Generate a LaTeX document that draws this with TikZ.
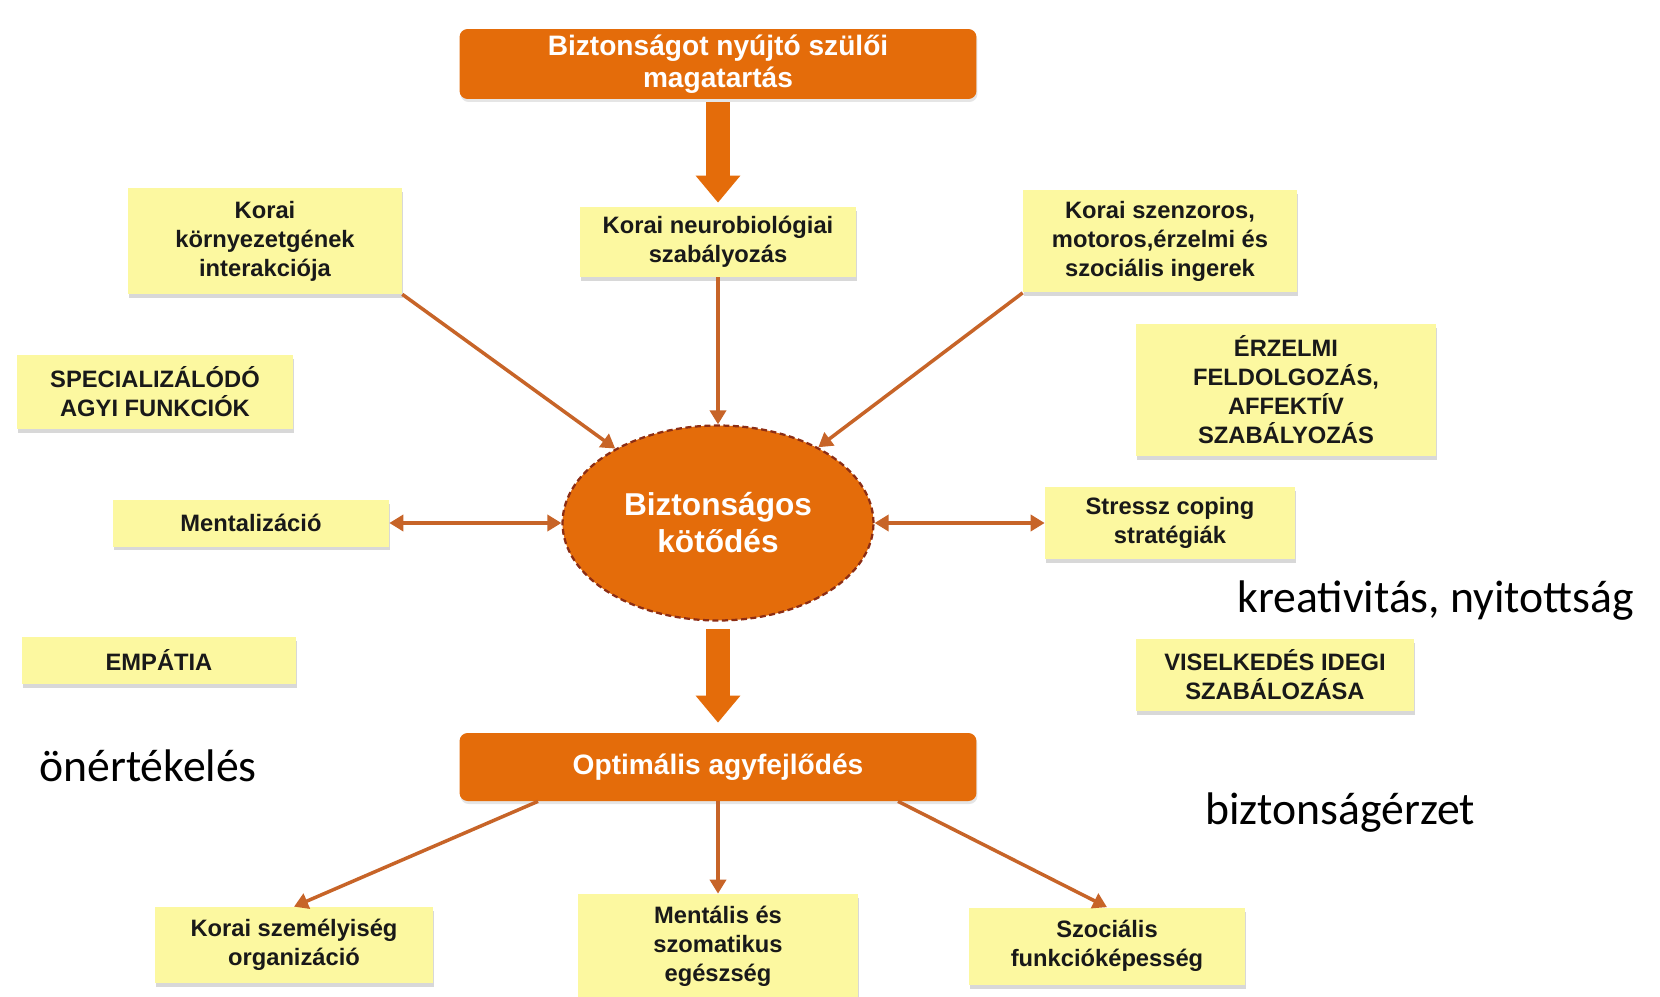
\documentclass[tikz,border=0pt]{standalone}
\usepackage{fontspec}
\setmainfont{Liberation Sans}
\newfontfamily\calibri{Carlito}
\usetikzlibrary{arrows.meta,shapes.geometric,shadows}
\definecolor{boxyellow}{RGB}{252,248,160}
\definecolor{hubfill}{RGB}{228,108,10}
\definecolor{hubedge}{RGB}{140,45,20}
\definecolor{linkcol}{RGB}{199,100,40}
\begin{document}
\begin{tikzpicture}[x=0.02cm,y=-0.02cm,
		box/.style={fill=boxyellow,text=black!90,align=center,inner sep=0pt,font=\fontsize{13.5}{16.5}\selectfont\bfseries,drop shadow={shadow xshift=0.2mm,shadow yshift=-0.8mm,opacity=0.3}},
		head/.style={fill=hubfill,text=white,align=center,inner sep=0pt,rounded corners=1.6mm,font=\fontsize{16}{18.5}\selectfont\bfseries,drop shadow={shadow xshift=0.2mm,shadow yshift=-0.6mm,opacity=0.2}},
		free/.style={anchor=west,inner sep=0pt,font=\calibri\fontsize{26}{30}\selectfont},
		link/.style={draw=linkcol,line width=0.7mm,-{Triangle[length=2.8mm,width=3.2mm]}},
		twolink/.style={link,{Triangle[length=2.8mm,width=3.2mm]}-{Triangle[length=2.8mm,width=3.2mm]}},
		biglink/.style={draw=hubfill,line width=4.8mm,-{Triangle[length=5.4mm,width=8.6mm]}}]
		\fill[white] (0,0) rectangle (1660,997);
		\useasboundingbox (0,0) rectangle (1660,997);
		
		\node[head,minimum width=10.34cm,minimum height=1.4cm] (1) at (718,64) {Biztonságot nyújtó szülői\\magatartás};
		\node[box,minimum width=5.52cm,minimum height=1.4cm] (2) at (718,242) {Korai neurobiológiai\\szabályozás};
		\node[box,minimum width=5.48cm,minimum height=2.12cm] (3) at (265,241) {Korai\\környezetgének\\interakciója};
		\node[box,minimum width=5.48cm,minimum height=2.06cm] (4) at (1160,241) {Korai szenzoros,\\motoros,érzelmi és\\szociális ingerek};
		\node[box,minimum width=5.52cm,minimum height=1.5cm] (5) at (155,392) {SPECIALIZÁLÓDÓ\\AGYI FUNKCIÓK};
		\node[box,minimum width=6cm,minimum height=2.64cm] (6) at (1286,390) {ÉRZELMI\\FELDOLGOZÁS,\\AFFEKTÍV\\SZABÁLYOZÁS};
		\node[ellipse,fill=hubfill,draw=hubedge,line width=0.45mm,dash pattern=on 1.2mm off 0.7mm,minimum width=6.22cm,minimum height=3.9cm,inner sep=0pt,text=white,align=center,font=\fontsize{18}{21}\selectfont\bfseries] (7) at (718,523) {Biztonságos\\kötődés};
		\node[box,minimum width=5.52cm,minimum height=0.94cm] (8) at (251,523) {Mentalizáció};
		\node[box,minimum width=5cm,minimum height=1.46cm] (9) at (1170,523) {Stressz coping\\stratégiák};
		\node[box,minimum width=5.5cm,minimum height=0.94cm] (10) at (159,660) {EMPÁTIA};
		\node[box,minimum width=5.56cm,minimum height=1.46cm] (11) at (1275,675) {VISELKEDÉS IDEGI\\SZABÁLOZÁSA};
		\node[free] (12) at (1237,601) {kreativitás, nyitottság};
		\node[free] (13) at (39,766) {önértékelés};
		\node[head,minimum width=10.34cm,minimum height=1.36cm] (14) at (718,767) {Optimális agyfejlődés};
		\node[free] (15) at (1205,813) {biztonságérzet};
		\node[box,minimum width=5.56cm,minimum height=1.52cm] (16) at (294,945) {Korai személyiség\\organizáció};
		\node[box,minimum width=5.6cm,minimum height=2.08cm] (17) at (718,946) {Mentális és\\szomatikus\\egészség};
		\node[box,minimum width=5.54cm,minimum height=1.54cm] (18) at (1107,946) {Szociális\\funkcióképesség};
		
		\draw[biglink,shorten <=0.6mm,shorten >=0.8mm] (1) -- (2);
		\draw[link] (3.south east) -- (7);
		\draw[link] (2) -- (7);
		\draw[link] (4.south west) -- (7);
		\draw[twolink] (8) -- (7);
		\draw[twolink] (7) -- (9);
		\draw[biglink,shorten <=1.5mm,shorten >=2mm] (7) -- (14);
		\draw[link] (14.south) ++(-180,0) -- (16.north);
		\draw[link] (14) -- (17);
		\draw[link] (14.south) ++(180,0) -- (18.north);
		\end{tikzpicture}
\end{document}
